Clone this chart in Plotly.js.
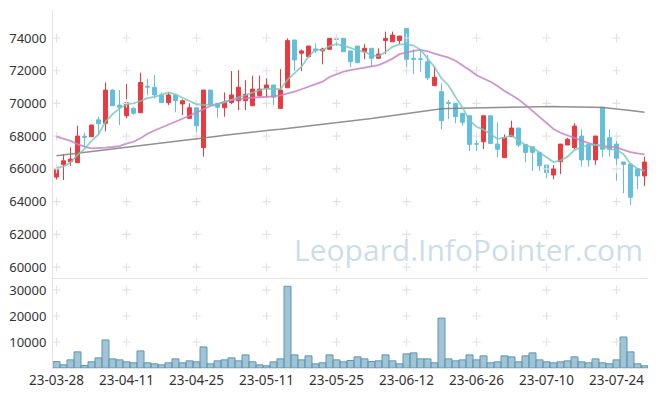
<!DOCTYPE html>
<html>
<head>
<meta charset="utf-8">
<script src="https://cdn.plot.ly/plotly-3.0.1.min.js"></script>
<style>html,body{margin:0;padding:0;background:#fff;}#chart{width:657px;height:396px;}</style>
</head>
<body>
<div id="chart"></div>
<script>
const dates = ["23-03-28","23-03-29","23-03-30","23-03-31",
"23-04-03","23-04-04","23-04-05","23-04-06","23-04-07",
"23-04-10","23-04-11","23-04-12","23-04-13","23-04-14",
"23-04-17","23-04-18","23-04-19","23-04-20","23-04-21",
"23-04-24","23-04-25","23-04-26","23-04-27","23-04-28",
"23-05-02","23-05-03","23-05-04",
"23-05-08","23-05-09","23-05-10","23-05-11","23-05-12",
"23-05-15","23-05-16","23-05-17","23-05-18","23-05-19",
"23-05-22","23-05-23","23-05-24","23-05-25","23-05-26",
"23-05-30","23-05-31","23-06-01","23-06-02",
"23-06-05","23-06-07","23-06-08","23-06-09",
"23-06-12","23-06-13","23-06-14","23-06-15","23-06-16",
"23-06-19","23-06-20","23-06-21","23-06-22","23-06-23",
"23-06-26","23-06-27","23-06-28","23-06-29","23-06-30",
"23-07-03","23-07-04","23-07-05","23-07-06","23-07-07",
"23-07-10","23-07-11","23-07-12","23-07-13","23-07-14",
"23-07-17","23-07-18","23-07-19","23-07-20","23-07-21",
"23-07-24","23-07-25","23-07-26","23-07-27","23-07-28"];

const open = [65500,66260,66440,66380,68000,67970,69000,68790,70820,69900,
69250,69700,69430,71050,70990,70520,70050,70520,69970,69090,
69740,67300,70820,70010,69740,70050,70170,70170,69860,70470,
70930,71130,69700,70960,73880,73070,72860,73330,73210,73310,
73960,73980,73210,73510,73160,73370,72760,73840,73770,73840,
74590,72760,72720,72550,71090,70720,70050,70010,69400,69250,
67540,67660,69250,67520,66690,67970,68500,67500,67350,67010,
66240,65630,66440,67460,67300,68010,67500,66550,69770,67910,
67520,66420,66300,66000,65570];

const high = [66250,66910,67320,68640,68210,68700,69190,71290,70850,70820,
71190,69800,71880,71500,71740,70680,70680,70550,70250,70010,
70010,70820,70820,70010,70680,71980,72040,71430,71700,71700,
71540,71130,72100,73980,73880,73300,73510,73680,73400,73980,
74180,73980,73210,73510,73630,73370,73370,74390,74390,74120,
74590,73310,73310,72960,72250,71230,70210,70010,69400,69250,
68270,69250,69250,68850,68110,68950,68500,67500,67350,67010,
66240,66240,67520,67900,68790,68420,67500,68010,69770,68420,
67700,66420,66300,66000,66750];

const low = [65350,65320,66180,66380,67320,67950,68070,68300,69860,68680,
69090,69300,69430,70500,70300,70050,69900,69460,69300,69090,
68200,66750,69900,69130,69190,69950,69600,69600,69860,70400,
70350,69900,69700,70960,71980,71980,72860,73070,72390,73310,
73530,73160,72210,72490,72700,72250,72760,73020,73770,73630,
71940,71800,71940,71430,71090,68420,69050,68790,68640,67090,
67090,67220,67560,66710,66690,67970,67350,66410,65870,65870,
65430,65370,65690,67460,67200,66140,66140,66250,66710,66750,
65280,64510,63800,64760,64950];

const close = [66000,66500,66600,68010,67930,68680,68760,70820,69860,69770,
70050,69400,71290,71000,70520,70050,70520,70170,70170,69740,
68640,70820,69900,69770,70070,70520,70990,70560,70880,70880,
71130,70380,70820,73840,72660,73210,73510,73220,73330,73980,
73920,73160,72550,72490,73370,72760,73020,73980,74180,74120,
72700,72700,72700,71570,71600,68950,70010,69190,68850,67500,
67520,69250,67560,67200,67910,68500,67460,67010,67010,66200,
65770,66000,67520,67810,68620,66550,66550,68010,67200,67200,
66650,66280,64270,65570,66420];

const volume = [2480,1220,3130,6190,950,2370,3900,10770,3510,3130,
2370,1990,6570,1990,1600,1220,1990,3510,1990,2750,
2370,8100,1600,2750,3130,3900,2750,5040,2370,1220,
840,2370,3510,31400,5040,3130,4660,1600,1990,5040,
3130,2370,2870,4280,3510,2480,2750,5040,2750,1600,
5420,5810,3510,3510,1990,19180,3510,2750,3130,5040,
3130,4660,1990,2370,4660,4280,2370,4660,5810,3130,
2370,1990,2370,2750,4280,2370,1990,3510,1990,1600,
3130,11920,6190,1600,840];

const ma5 = [66080,66140,66400,66850,67220,67710,68110,68890,69340,69700,
69950,70010,70150,70320,70410,70520,70680,70560,70350,70150,
69950,69910,69910,69950,70070,70230,70380,70500,70680,70820,
70900,70880,70880,71450,71850,72250,72850,73300,73250,73500,
73620,73540,73400,73250,73150,72950,72880,73140,73460,73610,
73620,73540,73280,72760,72220,71530,71100,70400,69760,68960,
68580,68400,68100,67840,67910,68050,67750,67450,67300,67000,
66670,66420,66520,66750,67150,67330,67440,67480,67390,67200,
67180,66900,66310,66020,65880];

const ma20 = [67970,67830,67710,67520,67360,67260,67260,67300,67340,67400,
67540,67660,67870,68150,68350,68530,68700,68850,69050,69250,
69450,69650,69850,69950,70110,70210,70270,70330,70360,70380,
70400,70430,70500,70600,70720,70870,71010,71170,71330,71620,
71800,71940,72030,72090,72190,72270,72350,72530,72740,73010,
73130,73210,73270,73190,73040,72940,72800,72610,72350,72040,
71720,71540,71330,71070,70760,70520,70250,69910,69540,69150,
68790,68440,68210,68050,67910,67730,67580,67460,67400,67380,
67320,67160,67030,66950,66890];

const maLong = [66810,66860,66910,66960,67010,67060,67110,67170,67220,67270,
67320,67370,67430,67480,67530,67580,67630,67690,67740,67790,
67840,67900,67950,68000,68060,68110,68170,68230,68270,68310,
68350,68390,68430,68480,68520,68560,68600,68650,68700,68740,
68790,68840,68900,68960,69020,69080,69140,69200,69260,69330,
69390,69450,69510,69570,69630,69680,69700,69710,69720,69720,
69730,69740,69750,69760,69770,69780,69790,69800,69800,69800,
69810,69810,69800,69800,69800,69790,69780,69770,69750,69720,
69680,69620,69570,69510,69460];

const xTickLabels = ["23-03-28","23-04-11","23-04-25","23-05-11","23-05-25","23-06-12","23-06-26","23-07-10","23-07-24"];
const priceTicks = [60000,62000,64000,66000,68000,70000,72000,74000];
const volumeTicks = [10000,20000,30000];

const FONT = "'Noto Sans', 'DejaVu Sans', sans-serif";
const RED = '#ea3a3f';
const BLUE = '#63bfdc';

function crossPoints(yvals) {
  const xs = [], ys = [];
  yvals.forEach(v => xTickLabels.forEach(d => { xs.push(d); ys.push(v); }));
  return {xs, ys};
}
const pc = crossPoints(priceTicks);
const vc = crossPoints(volumeTicks);

const crossMarker = {symbol:'cross-thin-open', size:6, color:'#e2e2e2', line:{color:'#e2e2e2', width:1.2}};

const traces = [
  {type:'scatter', mode:'markers', x:pc.xs, y:pc.ys, marker:crossMarker, xaxis:'x', yaxis:'y', hoverinfo:'skip'},
  {type:'scatter', mode:'markers', x:vc.xs, y:vc.ys, marker:crossMarker, xaxis:'x2', yaxis:'y2', hoverinfo:'skip'},
  {type:'candlestick', x:dates, open:open, high:high, low:low, close:close,
   increasing:{line:{color:RED, width:1}, fillcolor:RED},
   decreasing:{line:{color:BLUE, width:1}, fillcolor:BLUE},
   whiskerwidth:0, xaxis:'x', yaxis:'y', hoverinfo:'skip'},
  {type:'scatter', mode:'lines', x:dates, y:maLong, line:{color:'rgba(125,125,125,0.85)', width:1.5}, xaxis:'x', yaxis:'y', hoverinfo:'skip'},
  {type:'scatter', mode:'lines', x:dates, y:ma20, line:{color:'rgba(200,130,195,0.85)', width:1.8}, xaxis:'x', yaxis:'y', hoverinfo:'skip'},
  {type:'scatter', mode:'lines', x:dates, y:ma5, line:{color:'rgba(120,198,188,0.8)', width:1.8}, xaxis:'x', yaxis:'y', hoverinfo:'skip'},
  {type:'bar', x:dates, y:volume, marker:{color:'rgba(128,176,200,0.75)', line:{color:'#5e96b2', width:1}}, xaxis:'x2', yaxis:'y2', hoverinfo:'skip'}
];

const tickFont = {family:FONT, size:13, color:'#333'};
const split = (368-278)/358;

const layout = {
  width:657, height:396,
  margin:{l:53, r:9, t:10, b:28},
  paper_bgcolor:'#ffffff', plot_bgcolor:'#ffffff',
  showlegend:false,
  boxgap:0.2,
  bargap:0,
  font:{family:FONT},
  xaxis:{type:'category', categoryorder:'array', categoryarray:dates, anchor:'y', domain:[0,1],
         range:[-0.5,84.5], showticklabels:false, showgrid:false, zeroline:false,
         showline:true, linecolor:'#e2e2e2', linewidth:1, rangeslider:{visible:false}, fixedrange:true},
  yaxis:{domain:[split,1], range:[59336,75711], tickvals:priceTicks, ticktext:priceTicks.map(String),
         showgrid:false, zeroline:false, showline:true, linecolor:'#e2e2e2', linewidth:1,
         ticks:'', tickfont:tickFont, ticklabelstandoff:3},
  xaxis2:{type:'category', categoryorder:'array', categoryarray:dates, anchor:'y2', domain:[0,1],
          range:[-0.5,84.5], tickvals:xTickLabels, ticktext:xTickLabels, tickangle:0,
          showgrid:false, zeroline:false, showline:true, linecolor:'#e2e2e2', linewidth:1,
          ticks:'', tickfont:{family:FONT, size:13.5, color:'#333'}, rangeslider:{visible:false}},
  yaxis2:{domain:[0,split], range:[0,34600], tickvals:volumeTicks, ticktext:volumeTicks.map(String),
          showgrid:false, zeroline:false, showline:true, linecolor:'#e2e2e2', linewidth:1,
          ticks:'', tickfont:tickFont, ticklabelstandoff:3},
  annotations:[{text:'Leopard.InfoPointer.com', xref:'paper', yref:'paper',
    x:(468-53)/595, y:(368-250)/358, xanchor:'center', yanchor:'middle', showarrow:false,
    font:{family:"'Open Sans', 'Noto Sans', sans-serif", size:30, color:'rgba(170,198,218,0.6)'}}]
};

Plotly.newPlot('chart', traces, layout, {displayModeBar:false, staticPlot:true});
</script>
</body>
</html>
